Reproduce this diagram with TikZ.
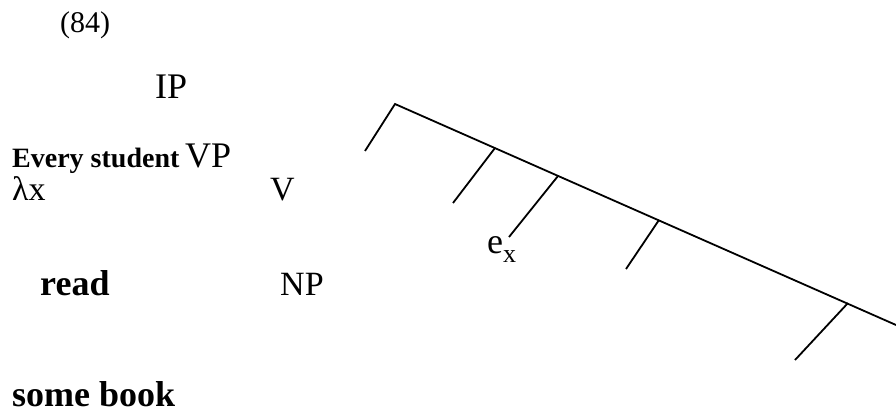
\documentclass[tikz,border=0pt]{standalone}
\usepackage{fontspec}
\usepackage{graphicx}
\setmainfont{Liberation Serif}
\tikzset{
  lbl/.style={inner sep=0pt, anchor=base west, font=\fontsize{36}{40}\selectfont},
  small/.style={inner sep=0pt, anchor=base west, font=\fontsize{28}{32}\selectfont},
  branch/.style={line width=1.8pt}
}
\begin{document}
\begin{tikzpicture}[x=1pt,y=-1pt]
\useasboundingbox (0,0) rectangle (896,412);
% labels
\node[small, font=\fontsize{30}{34}\selectfont] (num) at (60,33) {(84)};
\node[lbl] (ip) at (155,98) {IP};
\node[small, font=\fontsize{28}{32}\selectfont\bfseries] (every) at (12,167) {Every student};
\node[lbl] (vp) at (185,167) {VP};
\node[lbl, font=\fontsize{34}{38}\selectfont] (lam) at (12,200) {λx};
\node[lbl, font=\fontsize{34}{38}\selectfont] (v) at (270,200) {V};
\node[lbl, font=\fontsize{36}{40}\selectfont\bfseries] (read) at (40,295) {read};
\node[lbl, font=\fontsize{34}{38}\selectfont] (np) at (280,295) {NP};
\node[lbl, font=\fontsize{36}{40}\selectfont\bfseries] (book) at (12,406) {some book};
\node[lbl] (ex) at (487,253) {e\raisebox{-0.25em}{\fontsize{26}{28}\selectfont x}};
% tree lines
\coordinate (top) at (395,104);
\coordinate (end) at (896,325);
\coordinate (leg) at (365,151);
\coordinate (t2a) at (495,148);
\coordinate (t2b) at (453,203);
\coordinate (t3a) at (558,176);
\coordinate (t3b) at (509,237);
\coordinate (t4a) at (659,220);
\coordinate (t4b) at (626,269);
\coordinate (t5a) at (848,303);
\coordinate (t5b) at (795,360);
\draw[branch] (leg) -- (top) -- (end);
\draw[branch] (t2a) -- (t2b);
\draw[branch] (t3a) -- (t3b);
\draw[branch] (t4a) -- (t4b);
\draw[branch] (t5a) -- (t5b);
\end{tikzpicture}
\end{document}
